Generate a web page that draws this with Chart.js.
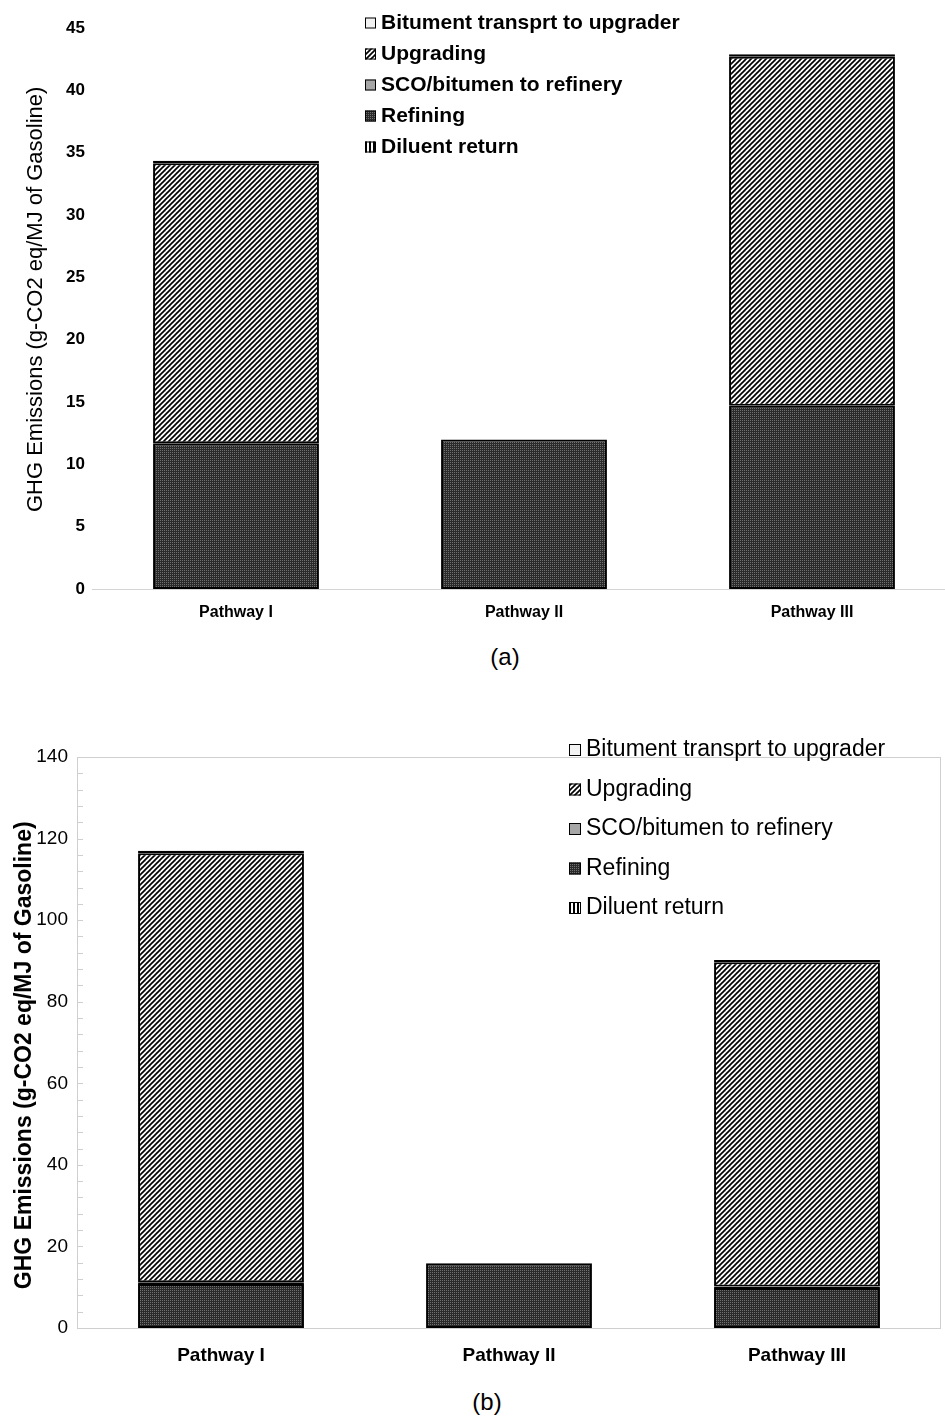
<!DOCTYPE html>
<html>
<head>
<meta charset="utf-8">
<script src="https://cdn.jsdelivr.net/npm/chart.js@4.4.0/dist/chart.umd.min.js"></script>
<style>
  body { margin:0; width:945px; height:1416px; overflow:hidden; background:#fff; position:relative; font-family:"Liberation Sans", Arial, sans-serif; }
  .box { position:absolute; left:0; }
  .cap { position:absolute; font-size:24px; color:#000; transform:translate(-50%,-50%); }
</style>
</head>
<body>
<div class="box" style="top:0"><canvas id="chartA" width="960" height="630"></canvas></div>
<div class="cap" style="left:505px; top:657px">(a)</div>
<div class="box" style="top:700px"><canvas id="chartB" width="945" height="680"></canvas></div>
<div class="cap" style="left:487px; top:1402px">(b)</div>
<script>
const pathways = ['Pathway I', 'Pathway II', 'Pathway III'];
const seriesNames = ['Diluent return', 'Refining', 'SCO/bitumen to refinery', 'Upgrading', 'Bitument transprt to upgrader'];

// (a) values, g-CO2 eq/MJ
const diluentA = [0, 0, 0];
const refiningA = [11.7, 12.0, 14.7];
const scoA = [0, 0, 0];
const upgradingA = [22.45, 0, 28.0];
const transportA = [0.2, 0, 0.2];
const ticksA = { max: 45, step: 5 };

// (b) values
const diluentB = [0, 0, 0];
const refiningB = [10.8, 15.9, 9.8];
const scoB = [0.4, 0, 0.4];
const upgradingB = [105.2, 0, 79.5];
const transportB = [0.6, 0, 0.5];
const ticksB = { max: 140, step: 4, label: 20 };

const FONT = '"Liberation Sans", Arial, sans-serif';
const yTitle = 'GHG Emissions (g-CO2 eq/MJ of Gasoline)';

function makePattern(kind) {
  const c = document.createElement('canvas');
  const g = c.getContext('2d');
  if (kind === 'hatch') {
    c.width = c.height = 5;
    g.fillStyle = '#fff'; g.fillRect(0, 0, 5, 5);
    g.strokeStyle = '#000'; g.lineWidth = 1.7;
    for (const k of [-5, 0, 5]) {
      g.beginPath(); g.moveTo(k - 1, 6); g.lineTo(k + 6, -1); g.stroke();
    }
  } else if (kind === 'dots') {
    c.width = c.height = 2;
    g.fillStyle = '#2a2a2a'; g.fillRect(0, 0, 2, 2);
    g.fillStyle = '#707070'; g.fillRect(0, 0, 1, 1);
  } else if (kind === 'vstripe') {
    c.width = 4; c.height = 4;
    g.fillStyle = '#fff'; g.fillRect(0, 0, 4, 4);
    g.fillStyle = '#000'; g.fillRect(1, 0, 2, 4);
  }
  return g.createPattern(c, 'repeat');
}

const fills = [makePattern('vstripe'), makePattern('dots'), '#a6a6a6', makePattern('hatch'), '#f2f2f2'];

function buildDatasets(series) {
  return series.map((data, i) => ({
    label: seriesNames[i],
    data: data,
    backgroundColor: fills[i],
    borderColor: '#000',
    borderWidth: 2,
    borderSkipped: false,
    barPercentage: 0.576,
    categoryPercentage: 1
  }));
}

// legend drawn inside the plot, top series first
const boxLegend = {
  id: 'boxLegend',
  afterDatasetsDraw(chart, args, opts) {
    const ctx = chart.ctx;
    const items = chart.data.datasets.slice().reverse();
    ctx.save();
    ctx.font = opts.font;
    ctx.textBaseline = 'middle';
    ctx.textAlign = 'left';
    items.forEach((ds, i) => {
      const y = opts.y + i * opts.dy;
      ctx.fillStyle = ds.backgroundColor;
      ctx.fillRect(opts.x, y - opts.size / 2, opts.size, opts.size);
      ctx.strokeStyle = '#000';
      ctx.lineWidth = 1;
      ctx.strokeRect(opts.x + 0.5, y - opts.size / 2 + 0.5, opts.size - 1, opts.size - 1);
      ctx.fillStyle = '#000';
      ctx.fillText(ds.label, opts.textX, y);
    });
    ctx.restore();
  }
};

// plot area frame + inside minor ticks for chart (b)
const frameTicks = {
  id: 'frameTicks',
  beforeDatasetsDraw(chart, args, opts) {
    if (!opts.on) return;
    const { ctx, chartArea: a } = chart;
    const y = chart.scales.y;
    ctx.save();
    ctx.strokeStyle = '#cfcfcf';
    ctx.lineWidth = 1;
    ctx.strokeRect(a.left + 0.5, a.top + 0.5, a.right - a.left - 1, a.bottom - a.top);
    ctx.beginPath();
    y.ticks.forEach(t => {
      const py = Math.round(y.getPixelForValue(t.value)) + 0.5;
      ctx.moveTo(a.left, py); ctx.lineTo(a.left + 6, py);
    });
    ctx.stroke();
    ctx.restore();
  }
};

new Chart(document.getElementById('chartA'), {
  type: 'bar',
  data: { labels: pathways, datasets: buildDatasets([diluentA, refiningA, scoA, upgradingA, transportA]) },
  plugins: [boxLegend, frameTicks],
  options: {
    responsive: false,
    animation: false,
    layout: { padding: { top: 28, right: 4, left: 0, bottom: 0 } },
    plugins: {
      legend: { display: false },
      tooltip: { enabled: false },
      boxLegend: { x: 365, textX: 381, y: 23, dy: 31, size: 11, font: 'bold 21px ' + FONT },
      frameTicks: { on: false }
    },
    scales: {
      x: {
        stacked: true,
        grid: { display: false, drawTicks: false },
        border: { display: true, color: '#d4d4d4', width: 1 },
        ticks: { color: '#000', font: { family: FONT, size: 16, weight: 'bold' }, padding: 14 },
        afterFit(s) { s.height = 41; }
      },
      y: {
        stacked: true,
        min: 0, max: ticksA.max,
        grid: { display: false, drawTicks: false },
        border: { display: false },
        ticks: { stepSize: ticksA.step, color: '#000', font: { family: FONT, size: 17, weight: 'bold' }, padding: 7 },
        // leading spaces nudge the rotated title up to where the original sits
        title: { display: true, text: '   ' + yTitle, color: '#000', font: { family: FONT, size: 22 }, padding: { top: 23, bottom: 0 } },
        afterFit(s) { s.width = 92; }
      }
    }
  }
});

new Chart(document.getElementById('chartB'), {
  type: 'bar',
  data: { labels: pathways, datasets: buildDatasets([diluentB, refiningB, scoB, upgradingB, transportB]) },
  plugins: [boxLegend, frameTicks],
  options: {
    responsive: false,
    animation: false,
    layout: { padding: { top: 57, right: 4, left: 0, bottom: 0 } },
    plugins: {
      legend: { display: false },
      tooltip: { enabled: false },
      boxLegend: { x: 569, textX: 586, y: 50, dy: 39.5, size: 12, font: '23px ' + FONT },
      frameTicks: { on: true }
    },
    scales: {
      x: {
        stacked: true,
        grid: { display: false, drawTicks: false },
        border: { display: false },
        ticks: { color: '#000', font: { family: FONT, size: 19, weight: 'bold' }, padding: 16 },
        afterFit(s) { s.height = 52; }
      },
      y: {
        stacked: true,
        min: 0, max: ticksB.max,
        grid: { display: false, drawTicks: false },
        border: { display: false },
        ticks: {
          stepSize: ticksB.step, autoSkip: false, color: '#000',
          font: { family: FONT, size: 19 }, padding: 9,
          callback: v => (v % ticksB.label === 0 ? v : '')
        },
        // trailing spaces nudge the rotated title down
        title: { display: true, text: yTitle + '    ', color: '#000', font: { family: FONT, size: 23, weight: 'bold' }, padding: { top: 11, bottom: 0 } },
        afterFit(s) { s.width = 77; }
      }
    }
  }
});
</script>
</body>
</html>
